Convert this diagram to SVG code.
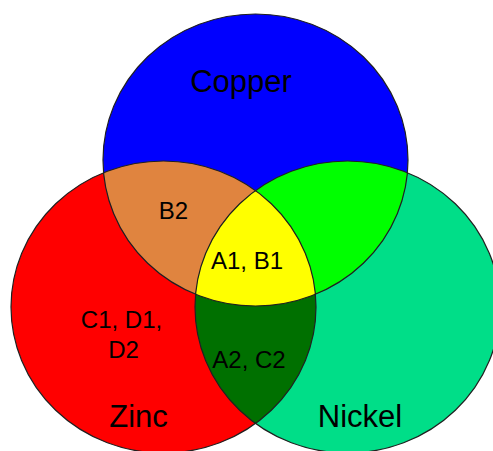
<svg xmlns="http://www.w3.org/2000/svg" width="493" height="451" viewBox="0 0 493 451">
<style>
.lbl{font-family:"Liberation Sans",Arial,sans-serif;fill:#000;text-anchor:middle}
.big{font-size:31px}
.sm{font-size:24px}
.edge{fill:none;stroke:#202020;stroke-width:1.2}
</style>
<defs>
<ellipse id="eCu" cx="255.5" cy="160" rx="152.5" ry="146"/>
<ellipse id="eZn" cx="163.5" cy="307" rx="152.5" ry="146"/>
<ellipse id="eNi" cx="347.5" cy="307" rx="152.5" ry="146"/>
<clipPath id="cCu"><use href="#eCu"/></clipPath>
<clipPath id="cZn"><use href="#eZn"/></clipPath>
<clipPath id="cNi"><use href="#eNi"/></clipPath>
</defs>
<rect width="493" height="451" fill="#fff"/>
<g id="zinc"><use href="#eZn" fill="#FF0000"/></g>
<g id="nickel"><use href="#eNi" fill="#00DE88"/></g>
<g id="copper"><use href="#eCu" fill="#0000FF"/></g>
<g id="copper-zinc" clip-path="url(#cZn)"><use href="#eCu" fill="#E0843F"/></g>
<g id="copper-nickel" clip-path="url(#cNi)"><use href="#eCu" fill="#00FF00"/></g>
<g id="zinc-nickel" clip-path="url(#cZn)"><use href="#eNi" fill="#007000"/></g>
<g id="all-three" clip-path="url(#cZn)"><g clip-path="url(#cNi)"><use href="#eCu" fill="#FFFF00"/></g></g>
<g id="outlines">
<use href="#eZn" class="edge"/>
<use href="#eNi" class="edge"/>
<use href="#eCu" class="edge"/>
</g>
<g id="connectors"></g>
<g id="labels">
<text class="lbl big" x="241" y="92">Copper</text>
<text class="lbl big" x="138.5" y="427">Zinc</text>
<text class="lbl big" x="360" y="427">Nickel</text>
<text class="lbl sm" x="173.5" y="219">B2</text>
<text class="lbl sm" x="247" y="269">A1, B1</text>
<text class="lbl sm" x="121.5" y="328">C1, D1,</text>
<text class="lbl sm" x="123.5" y="358">D2</text>
<text class="lbl sm" x="249" y="368">A2, C2</text>
</g>
</svg>
